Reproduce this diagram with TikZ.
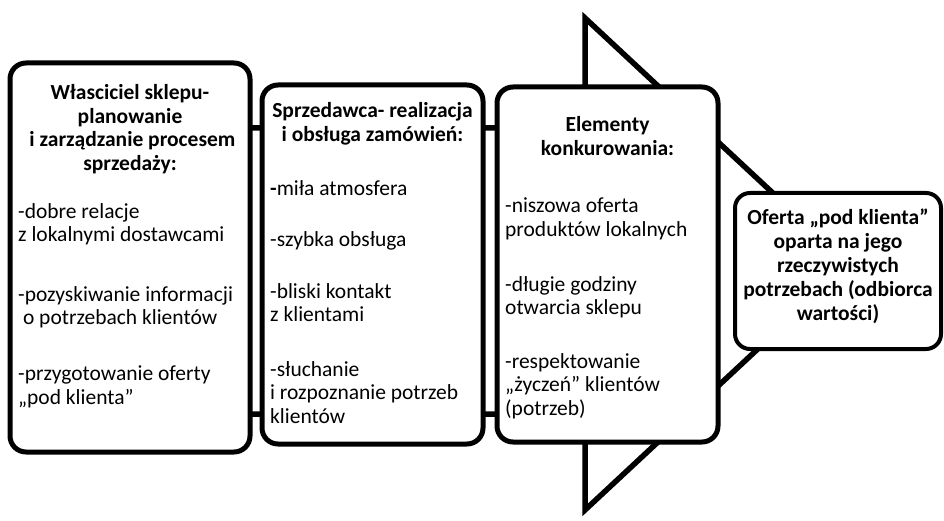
\documentclass[tikz,border=0pt]{standalone}
\usepackage{fontspec}
\setmainfont{Carlito}
\begin{document}
\begin{tikzpicture}[x=1pt,y=-1pt,
  panel/.style={draw=black, line width=5pt, rounded corners=16pt, fill=white, inner sep=0pt},
  goal/.style={draw=black, line width=4pt, rounded corners=15pt, fill=white, inner sep=0pt},
  flow/.style={draw=black, line width=5.5pt, line join=miter},
  head/.style={inner sep=0pt, anchor=north, align=center, font=\bfseries\fontsize{21.5}{23.8}\selectfont},
  body/.style={inner sep=0pt, anchor=north west, align=left, font=\fontsize{21.5}{23.8}\selectfont},
]
\useasboundingbox (0,0) rectangle (944,521);

% large arrow behind the panels: shaft and triangular head
\draw[flow] (130,128) -- (585,128) -- (585,18) -- (849,264) -- (585,510) -- (585,414) -- (130,414);

% panels
\node[panel, minimum width=240pt, minimum height=389pt] (owner) at (130,257.5) {};
\node[panel, minimum width=221pt, minimum height=359pt] (seller) at (372.5,264.5) {};
\node[panel, minimum width=221pt, minimum height=355pt] (compete) at (607.5,264.5) {};
\node[goal, minimum width=206pt, minimum height=156pt] (offer) at (838,271) {};

% owner panel
\node[head] (ownerT) at (130,84) {Własciciel sklepu-\\planowanie\\\ i zarządzanie procesem\\sprzedaży:};
\node[body] (ownerA) at (18,203) {-dobre relacje\\z lokalnymi dostawcami};
\node[body] (ownerB) at (18,286) {-pozyskiwanie informacji\\\ o potrzebach klientów};
\node[body] (ownerC) at (18,366) {-przygotowanie oferty\\„pod klienta”};

% seller panel
\node[head] (sellerT) at (372.5,102) {Sprzedawca- realizacja\\i obsługa zamówień:};
\node[body] (sellerA) at (270,180) {\textbf{-}miła atmosfera};
\node[body] (sellerB) at (270,231) {-szybka obsługa};
\node[body] (sellerC) at (270,283) {-bliski kontakt\\z klientami};
\node[body] (sellerD) at (270,361) {-słuchanie\\i rozpoznanie potrzeb\\klientów};

% competition panel
\node[head] (competeT) at (607.5,116) {Elementy\\konkurowania:};
\node[body] (competeA) at (505,198) {-niszowa oferta\\produktów lokalnych};
\node[body] (competeB) at (505,276) {-długie godziny\\otwarcia sklepu};
\node[body] (competeC) at (505,353) {-respektowanie\\„życzeń” klientów\\(potrzeb)};

% value recipient
\node[head] (offerT) at (838,209) {Oferta „pod klienta”\\oparta na jego\\rzeczywistych\\potrzebach (odbiorca\\wartości)};
\end{tikzpicture}
\end{document}
